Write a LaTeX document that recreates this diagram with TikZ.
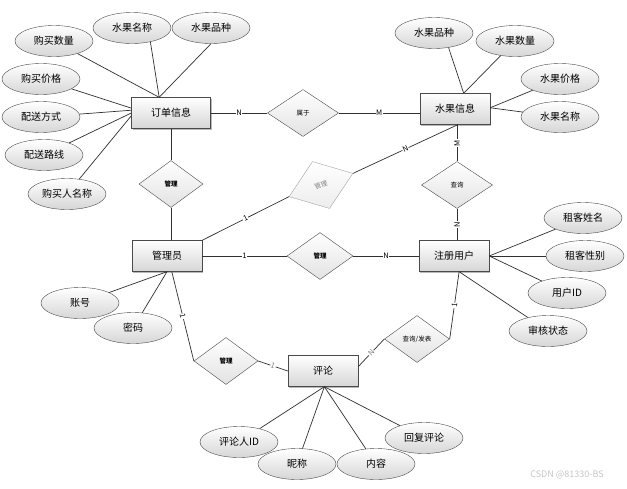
\documentclass[tikz,border=0pt]{standalone}
\usepackage{fontspec}
\setmainfont{Noto Sans CJK SC}
\usetikzlibrary{shapes.geometric,shadows}
\definecolor{edgegrey}{HTML}{4A4A4A}
\definecolor{linegrey}{HTML}{303030}
\definecolor{shadegrey}{HTML}{D6D6D6}
\definecolor{faintgrey}{HTML}{A6A6A6}
\tikzset{
  entity/.style = {draw=edgegrey, top color=white, bottom color=shadegrey, minimum width=70pt,
                   minimum height=31pt, inner sep=0pt, font=\fontsize{10}{12}\selectfont,
                   drop shadow={shadow xshift=1.2pt, shadow yshift=-1.2pt, fill=gray!55, opacity=1}},
  attr/.style   = {ellipse, draw=edgegrey, top color=white, bottom color=shadegrey, minimum width=78pt,
                   minimum height=31pt, inner sep=0pt, font=\fontsize{10}{12}\selectfont},
  rel/.style    = {diamond, draw=edgegrey, top color=white, bottom color=shadegrey!70, minimum width=66pt,
                   minimum height=47pt, inner sep=0pt, font=\fontsize{6.5}{8}\selectfont},
  link/.style   = {draw=linegrey, line width=0.7pt},
  card/.style   = {fill=white, inner sep=0.6pt, font=\fontsize{7.5}{9}\selectfont},
}

\begin{document}
\begin{tikzpicture}[x=1pt, y=-1pt]
  \useasboundingbox[fill=white] (0,0) rectangle (627,488);

  \node[entity, minimum width=79pt] (order) at (171,113) {订单信息};
  \node[entity] (fruit) at (455,109) {水果信息};
  \node[entity] (admin) at (167,256) {管理员};
  \node[entity] (user) at (454,256) {注册用户};
  \node[entity] (review) at (323,371) {评论};

  \node[rel, minimum width=71pt] (belong) at (303,113) {属于};
  \node[rel, minimum width=64pt, font=\fontsize{6.5}{8}\selectfont\bfseries] (manord) at (171,184) {管理};
  \node[rel, rotate=20, minimum width=68pt, minimum height=50pt, draw=faintgrey,
        bottom color=shadegrey!45, text=gray] (manfruit) at (321,185) {管理};
  \node[rel, minimum width=71pt] (query) at (457,185) {查询};
  \node[rel, font=\fontsize{6.5}{8}\selectfont\bfseries] (manuser) at (320,256) {管理};
  \node[rel, minimum width=64pt, font=\fontsize{6.5}{8}\selectfont\bfseries] (manrev) at (226,361) {管理};
  \node[rel, minimum width=65pt] (post) at (417,339) {查询/发表};

  \node[attr] (buyqty) at (54,41) {购买数量};
  \node[attr] (fname1) at (132,28) {水果名称};
  \node[attr] (fkind1) at (211,28) {水果品种};
  \node[attr] (buyprice) at (41,79) {购买价格};
  \node[attr] (shipway) at (41,117) {配送方式};
  \node[attr] (shiproute) at (44,155) {配送路线};
  \node[attr] (buyer) at (67,194) {购买人名称};
  \node[attr] (fkind2) at (434,33) {水果品种};
  \node[attr] (fqty) at (515,41) {水果数量};
  \node[attr] (fprice) at (560,79) {水果价格};
  \node[attr] (fname2) at (560,117) {水果名称};
  \node[attr] (tname) at (583,218) {租客姓名};
  \node[attr] (tsex) at (585,256) {租客性别};
  \node[attr] (uid) at (567,293) {用户ID};
  \node[attr] (audit) at (548,331) {审核状态};
  \node[attr] (account) at (80,303) {账号};
  \node[attr] (pwd) at (133,328) {密码};
  \node[attr] (rid) at (239,442) {评论人ID};
  \node[attr] (nick) at (297,464) {昵称};
  \node[attr] (content) at (376,464) {内容};
  \node[attr] (reply) at (424,438) {回复评论};

  \draw[link] (buyqty) -- (order.127); \draw[link] (fname1.-37) -- (order.127);
  \draw[link] (fkind1.south) -- (order.127);
  \draw[link] (buyprice) -- (order.173); \draw[link] (shipway) -- (order.176);
  \draw[link] (shiproute) -- (order.180); \draw[link] (buyer) -- (order.184);
  \draw[link] (fkind2.-45) -- (fruit.61); \draw[link] (fqty) -- (fruit.61);
  \draw[link] (fprice) -- (fruit.2); \draw[link] (fname2) -- (fruit.2);
  \draw[link] (tname) -- (user.east); \draw[link] (tsex) -- (user.east);
  \draw[link] (uid) -- (user.east); \draw[link] (audit) -- (user.-72);
  \draw[link] (account) -- (admin.south); \draw[link] (pwd) -- (admin.south);
  \draw[link] (rid) -- (review.-85); \draw[link] (nick) -- (review.-85);
  \draw[link] (content) -- (review.-85); \draw[link] (reply) -- (review.-85);

  \draw[link] (order.east) -- node[card] {N} (belong.west);
  \draw[link] (belong.east) -- node[card] {M} (belong.east -| fruit.west);
  \draw[link] (order.south) -- (manord.north);
  \draw[link] (manord.south) -- (manord.south |- admin.north);
  \draw[link] (admin.north east) -- node[card, sloped] {1} (manfruit.west);
  \draw[link] (manfruit.east) -- node[card, sloped] {N} (fruit.-80);
  \draw[link] (query.north) -- node[card, rotate=90] {M} (query.north |- fruit.south);
  \draw[link] (query.south) -- node[card, rotate=90] {N} (query.south |- user.north);
  \draw[link] (admin.east) -- node[card] {1} (manuser.west);
  \draw[link] (manuser.east) -- node[card] {N} (user.west);
  \draw[link] (admin.-73) -- node[card, sloped] {1} (manrev.west);
  \draw[link] (manrev.east) -- node[card, sloped, text=gray] {1} (review.west);
  \draw[link] (review.7) -- node[card, sloped, text=gray] {N} (post.west);
  \draw[link] (post.east) -- node[card, sloped] {1} (user.-72);

  \node[font=\fontsize{9}{10}\selectfont, text=gray!45] (mark) at (567,475) {CSDN @81330-BS};
\end{tikzpicture}
\end{document}
